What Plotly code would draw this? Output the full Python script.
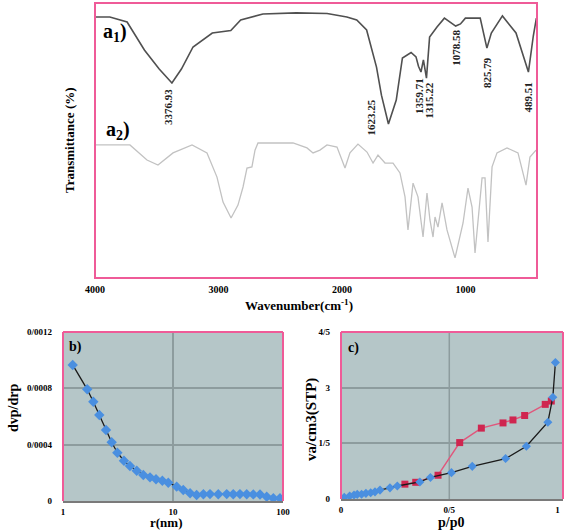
import plotly.graph_objects as go

W, H = 567, 532
def px(x):
    return x / W
def py(y):
    return 1 - y / H

SERIF = "Liberation Serif"
PINK = "#ef5b98"
BG = "#b5c6c8"
GRID = "#8d9c9e"

# ---------------- data: FTIR spectra (a1, a2) ----------------
wn_a1 = [4000, 3880, 3740, 3600, 3480, 3376.93, 3300, 3206, 3050, 2970, 2900, 2820,
         2640, 2370, 2120, 1960, 1880, 1800, 1720, 1680, 1623.25, 1560, 1510, 1440,
         1400, 1380, 1359.71, 1340, 1315.22, 1290, 1230, 1170, 1120, 1078.58, 1040,
         1000, 880, 855, 825.79, 790, 700, 590, 540, 489.51, 450, 425]
t_a1 = [94.9, 94.9, 93.1, 82.9, 76.0, 70.9, 76.0, 84.0, 89.1, 89.5, 90.0, 93.8,
        96.0, 96.4, 96.2, 94.9, 93.8, 90.2, 76.7, 66.5, 56.0, 64.7, 80.0, 82.0,
        80.4, 77.0, 74.9, 79.3, 72.7, 87.6, 91.3, 94.5, 93.0, 91.6, 92.4,
        94.5, 94.5, 90.0, 83.6, 89.1, 95.3, 89.1, 82.0, 74.9, 88.0, 94.5]

wn_a2 = [4000, 3717, 3579, 3490, 3368, 3214, 3093, 3012, 2963, 2898, 2842, 2801,
         2769, 2729, 2704, 2680, 2526, 2396, 2283, 2234, 2178, 2121, 2040, 1975,
         1935, 1870, 1797, 1748, 1708, 1651, 1586, 1530, 1489, 1465, 1424, 1384,
         1343, 1311, 1287, 1262, 1246, 1222, 1189, 1149, 1084, 1019, 979, 946, 922,
         865, 841, 817, 784, 744, 663, 574, 509, 477, 428]
t_a2 = [48.4, 48.4, 42.9, 41.1, 45.5, 48.4, 45.5, 36.7, 27.6, 21.8, 26.5, 33.1,
        40.0, 40.4, 46.5, 49.1, 49.1, 49.1, 47.3, 45.5, 46.5, 48.4, 47.6, 40.0,
        45.5, 48.7, 45.8, 41.8, 44.7, 41.8, 41.8, 38.2, 29.5, 17.5, 34.5, 29.5,
        14.9, 30.9, 21.1, 14.9, 22.2, 18.5, 27.3, 17.5, 7.3, 20.0, 32.7, 25.8, 9.1,
        36.4, 36.4, 13.1, 40.4, 45.5, 47.3, 45.5, 33.8, 44.0, 46.5]

peak_wn = [3376.93, 1623.25, 1359.71, 1315.22, 1078.58, 825.79, 489.51]
peak_labels = ["3376.93", "1623.25", "1359.71", "1315.22", "1078.58", "825.79", "489.51"]
peak_label_t = [62.2, 58.5, 66.2, 64.7, 83.6, 74.9, 65.8]

ftir_ticks = [4000, 3000, 2000, 1000]

# ---------------- data: pore size distribution (b) ----------------
r_nm = [1.225, 1.66, 1.886, 2.138, 2.46, 2.77, 3.12, 3.58, 4.06, 4.68, 5.37, 6.18,
        7.01, 8.0, 9.06, 10.8, 12.4, 14.3, 16.4, 18.9, 21.7, 25.8, 30.8, 35.3,
        40.6, 46.8, 53.7, 61.8, 71.1, 81.7, 93.9]
dvp = [0.000966, 0.000793, 0.000705, 0.000611, 0.000504, 0.000417, 0.000343,
       0.000286, 0.000249, 0.000215, 0.000185, 0.000168, 0.000154, 0.000144,
       0.000130, 0.000102, 0.000078, 0.000055, 0.000043, 0.000048, 0.000049,
       0.000048, 0.000049, 0.000048, 0.000049, 0.000048, 0.000047, 0.000046,
       0.000030, 0.000019, 0.000019]
b_yticks = [0, 0.0004, 0.0008, 0.0012]
b_ytext = ["0", "0/0004", "0/0008", "0/0012"]
b_xticks = [1, 10, 100]

# ---------------- data: isotherm (c) ----------------
p_ads = [0.015, 0.04, 0.06, 0.075, 0.095, 0.115, 0.137, 0.157, 0.18, 0.226, 0.26,
         0.364, 0.413, 0.51, 0.606, 0.76, 0.856, 0.955, 0.978, 0.99]
v_ads = [0.045, 0.08, 0.107, 0.125, 0.13, 0.152, 0.17, 0.193, 0.24, 0.30, 0.35,
         0.46, 0.58, 0.71, 0.88, 1.09, 1.42, 2.07, 2.74, 3.68]
p_des = [0.295, 0.345, 0.448, 0.548, 0.648, 0.748, 0.794, 0.848, 0.943, 0.971]
v_des = [0.40, 0.45, 0.64, 1.52, 1.91, 2.05, 2.13, 2.25, 2.55, 2.64]
c_yticks = [0, 1.5, 3, 4.5]
c_ytext = ["0", "1/5", "3", "4/5"]
c_xticks = [0, 0.5, 1]
c_xtext = ["0", "0/5", "1"]

# ---------------- figure ----------------
fig = go.Figure()
fig.add_trace(go.Scatter(x=wn_a1, y=t_a1, mode="lines", line=dict(color="#505050", width=1.6),
                         xaxis="x", yaxis="y", showlegend=False, hoverinfo="skip"))
fig.add_trace(go.Scatter(x=wn_a2, y=t_a2, mode="lines", line=dict(color="#c2c2c2", width=1.3),
                         xaxis="x", yaxis="y", showlegend=False, hoverinfo="skip"))
fig.add_trace(go.Scatter(x=r_nm, y=dvp, mode="lines+markers",
                         line=dict(color="#1a1a1a", width=1.3),
                         marker=dict(symbol="diamond", size=8, color="#4a8fe0"),
                         xaxis="x2", yaxis="y2", showlegend=False))
fig.add_trace(go.Scatter(x=p_des, y=v_des, mode="lines+markers",
                         line=dict(color="#e0577c", width=1.4),
                         marker=dict(symbol="square", size=7, color="#cf2650"),
                         xaxis="x3", yaxis="y3", showlegend=False))
fig.add_trace(go.Scatter(x=p_ads, y=v_ads, mode="lines+markers",
                         line=dict(color="#1a1a1a", width=1.3),
                         marker=dict(symbol="diamond", size=7, color="#4a8fe0"),
                         xaxis="x3", yaxis="y3", showlegend=False))

tickfont = dict(family=SERIF, size=10, color="black", weight="bold")
small = dict(family=SERIF, size=9, color="black", weight="bold")

fig.update_layout(
    width=W, height=H, autosize=False,
    margin=dict(l=0, r=0, t=0, b=0, pad=0),
    paper_bgcolor="white", plot_bgcolor="rgba(0,0,0,0)",
    xaxis=dict(domain=[px(95), px(537)], range=[4000, 420], tickvals=ftir_ticks,
               ticks="", showgrid=False, zeroline=False, showline=False,
               tickfont=tickfont, anchor="y", ticklabelstandoff=4, automargin=False),
    yaxis=dict(domain=[py(278), py(3)], range=[0, 100], showticklabels=False,
               showgrid=False, zeroline=False, showline=False, anchor="x", automargin=False),
    xaxis2=dict(domain=[px(63), px(283)], type="log", range=[0, 2], tickvals=b_xticks,
                ticktext=["1", "10", "100"], ticks="", showgrid=True, gridcolor=GRID,
                gridwidth=1.5, zeroline=False, showline=True, linecolor="#7a7a7a",
                linewidth=1.5, tickfont=small, anchor="y2", ticklabelstandoff=1,
                automargin=False),
    yaxis2=dict(domain=[py(501), py(332)], range=[0, 0.0012], tickvals=b_yticks,
                ticktext=b_ytext, ticks="", showgrid=True, gridcolor=GRID, gridwidth=1.5,
                zeroline=False, showline=False, tickfont=small,
                anchor="x2", ticklabelstandoff=10, automargin=False),
    xaxis3=dict(domain=[px(341), px(563)], range=[0, 1.025], tickvals=c_xticks,
                ticktext=c_xtext, ticks="", showgrid=False, zeroline=False, showline=True,
                linecolor="#7a7a7a", linewidth=1.5, tickfont=small,
                anchor="y3", ticklabelstandoff=1, automargin=False),
    yaxis3=dict(domain=[py(499), py(332)], range=[0, 4.5], tickvals=c_yticks,
                ticktext=c_ytext, ticks="", showgrid=True, gridcolor=GRID, gridwidth=1.5,
                zeroline=False, showline=False, tickfont=small,
                anchor="x3", ticklabelstandoff=10, automargin=False),
)

shapes = []
# panel backgrounds
for xa, ya in (("x2", "y2"), ("x3", "y3")):
    shapes.append(dict(type="rect", xref=f"{xa} domain", yref=f"{ya} domain",
                       x0=0, x1=1, y0=0, y1=1, fillcolor=BG, line=dict(width=0),
                       layer="below"))
# vertical grid at p/p0 = 0.5
shapes.append(dict(type="line", xref="x3", yref="y3 domain", x0=0.5, x1=0.5, y0=0, y1=1,
                   line=dict(color=GRID, width=1.5), layer="below"))
# frames
shapes.append(dict(type="rect", xref="x domain", yref="y domain", x0=0, x1=1, y0=0, y1=1,
                   line=dict(color=PINK, width=2), layer="above"))
for xa, ya in (("x2", "y2"), ("x3", "y3")):
    for (x0, y0, x1, y1) in ((0, 0, 0, 1), (0, 1, 1, 1), (1, 1, 1, 0)):
        shapes.append(dict(type="line", xref=f"{xa} domain", yref=f"{ya} domain",
                           x0=x0, y0=y0, x1=x1, y1=y1, line=dict(color=PINK, width=2),
                           layer="above"))
fig.update_layout(shapes=shapes)

ann = []
shifts = [-4, -17, -2, 3, 0, 0, 0]
for wn, lab, ty, sh in zip(peak_wn, peak_labels, peak_label_t, shifts):
    ann.append(dict(x=wn, y=ty, xref="x", yref="y", text=lab, showarrow=False,
                    textangle=-90, xshift=sh,
                    font=dict(family=SERIF, size=11, color="#222", weight="bold")))

def pann(x, y, text, size, angle=0, xanchor="center", color="black"):
    return dict(x=px(x), y=py(y), xref="paper", yref="paper", text=text, showarrow=False,
                textangle=angle, xanchor=xanchor, yanchor="middle",
                font=dict(family=SERIF, size=size, color=color, weight="bold"))

ann += [
    pann(101, 33, "a<sub>1</sub>)", 20, xanchor="left"),
    pann(104, 131, "a<sub>2</sub>)", 20, xanchor="left"),
    pann(70, 140, "Transmittance (%)", 13, angle=-90),
    pann(299, 305, "Wavenumber(cm<sup>-1</sup>)", 13),
    pann(67, 347, "b)", 14, xanchor="left"),
    pann(346, 348, "c)", 14, xanchor="left"),
    pann(13, 408, "dvp/drp", 14, angle=-90),
    pann(311, 420, "va/cm3(STP)", 15, angle=-90),
    pann(166, 522, "r(nm)", 13),
    pann(451, 522, "p/p0", 14),
]
fig.update_layout(annotations=ann)

fig.write_html("out.html", config={"displayModeBar": False},
               post_script="document.body.style.margin='0px';document.body.style.overflow='hidden';")
